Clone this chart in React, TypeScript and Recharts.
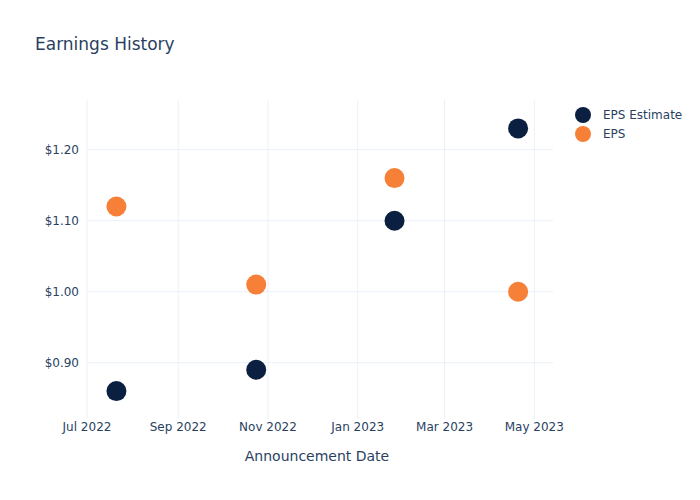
import React from 'react';
import { ScatterChart, Scatter, XAxis, YAxis, CartesianGrid } from 'recharts';

const announcementDates = ['2022-07-21', '2022-10-24', '2023-01-26', '2023-04-20'];
const epsEstimate = [0.86, 0.89, 1.10, 1.23];
const epsActual = [1.12, 1.01, 1.16, 1.00];
const xTickDates = ['2022-07-01', '2022-09-01', '2022-11-01', '2023-01-01', '2023-03-01', '2023-05-01'];
const yTicks = [0.9, 1.0, 1.1, 1.2];
const seriesNames = ['EPS Estimate', 'EPS'];

const MONTHS = ['Jan', 'Feb', 'Mar', 'Apr', 'May', 'Jun', 'Jul', 'Aug', 'Sep', 'Oct', 'Nov', 'Dec'];
const toTs = (d: string) => Date.parse(d + 'T00:00:00Z');
const DAY = 86400000;

const estimateData = announcementDates.map((d, i) => ({ x: toTs(d), y: epsEstimate[i] }));
const epsData = announcementDates.map((d, i) => ({ x: toTs(d), y: epsActual[i] }));
const xTicks = xTickDates.map(toTs);

const NAVY = '#0b1f40';
const ORANGE = '#f68037';
const TEXT = '#2a3f5f';
const GRID = '#ebf0f8';
const FONT = '"DejaVu Sans", sans-serif';
const COLORS = [NAVY, ORANGE];

const xDomain = [toTs('2022-07-01'), toTs('2022-07-01') + 316.7 * DAY];
const yDomain = [0.8207, 1.270];

const fmtDate = (v: number) => {
  const d = new Date(v);
  return `${MONTHS[d.getUTCMonth()]} ${d.getUTCFullYear()}`;
};

const dot = (color: string) => (props: any) => (
  <circle cx={props.cx} cy={props.cy} r={10} fill={color} />
);

export default function App() {
  return (
    <div style={{ position: 'absolute', left: 0, top: 0, width: 700, height: 500, background: '#fff' }}>
      <div
        style={{
          position: 'absolute',
          left: 35,
          top: 34,
          fontFamily: FONT,
          fontSize: 17,
          color: TEXT,
          lineHeight: '20px',
          whiteSpace: 'nowrap',
        }}
      >
        Earnings History
      </div>
      <div style={{ position: 'absolute', left: 574, top: 105, fontFamily: FONT, fontSize: 12, color: TEXT }}>
        {seriesNames.map((name, i) => (
          <div key={name} style={{ display: 'flex', alignItems: 'center', height: 19 }}>
            <svg width={18} height={18} style={{ marginRight: 11 }}>
              <circle cx={9} cy={9} r={8} fill={COLORS[i]} />
            </svg>
            <span>{name}</span>
          </div>
        ))}
      </div>
      <div style={{ position: 'absolute', left: 0, top: 0 }}>
        <ScatterChart
          width={700}
          height={500}
          margin={{ top: 100, right: 147, left: 0, bottom: 51 }}
          style={{ fontFamily: FONT }}
        >
          <CartesianGrid stroke={GRID} strokeWidth={1} syncWithTicks />
          <XAxis
            type="number"
            dataKey="x"
            domain={xDomain}
            ticks={xTicks}
            tickFormatter={fmtDate}
            allowDataOverflow
            axisLine={false}
            tickLine={false}
            tickSize={0}
            height={30}
            tick={{ fill: TEXT, fontSize: 12, fontFamily: FONT }}
            tickMargin={3}
            interval={0}
            label={{ value: 'Announcement Date', position: 'insideBottom', offset: -12, dx: -3, fill: TEXT, fontSize: 14, fontFamily: FONT }}
          />
          <YAxis
            type="number"
            dataKey="y"
            domain={yDomain}
            ticks={yTicks}
            allowDataOverflow
            width={87}
            axisLine={false}
            tickLine={false}
            tickSize={0}
            tickMargin={8}
            tickFormatter={(v: number) => `$${v.toFixed(2)}`}
            tick={{ fill: TEXT, fontSize: 12, fontFamily: FONT }}
            interval={0}
          />
          <Scatter name={seriesNames[0]} data={estimateData} fill={NAVY} shape={dot(NAVY)} isAnimationActive={false} />
          <Scatter name={seriesNames[1]} data={epsData} fill={ORANGE} shape={dot(ORANGE)} isAnimationActive={false} />
        </ScatterChart>
      </div>
    </div>
  );
}
